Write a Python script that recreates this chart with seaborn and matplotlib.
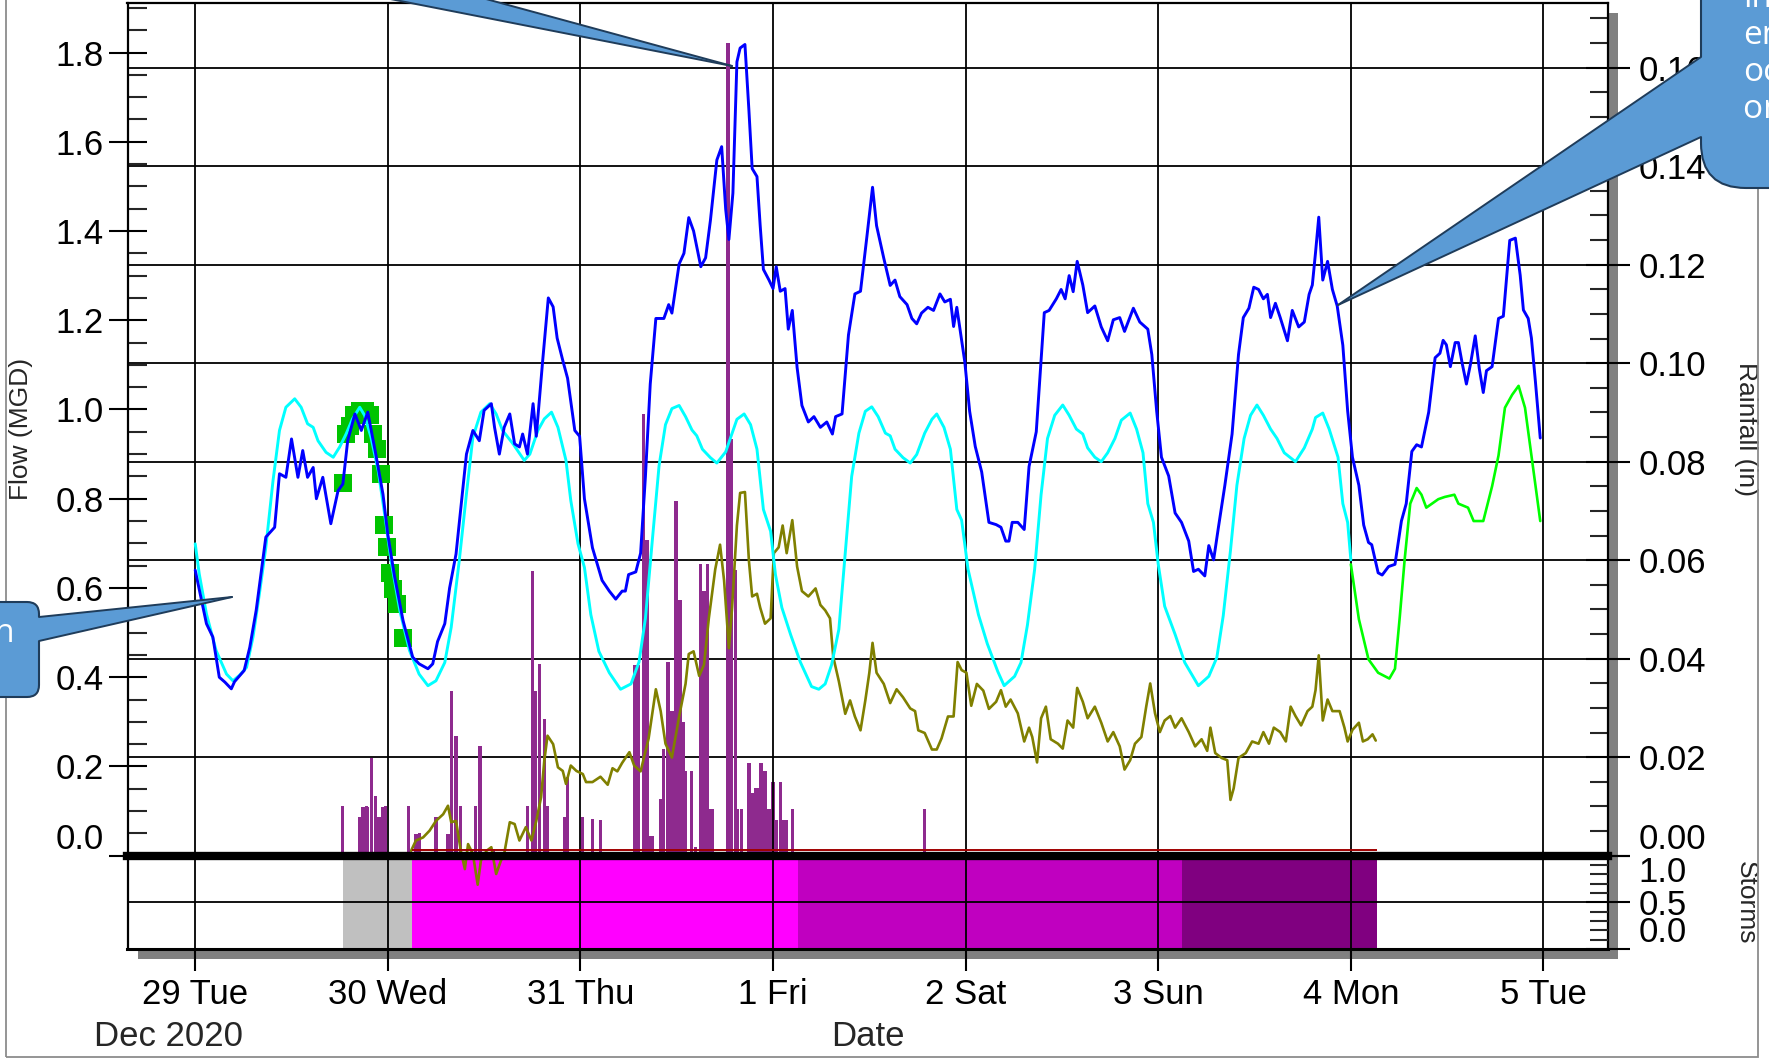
import datetime as dt
import numpy as np
import pandas as pd
import matplotlib
matplotlib.use("Agg")
import matplotlib.pyplot as plt
import matplotlib.dates as mdates
from matplotlib.ticker import MultipleLocator, FuncFormatter
from matplotlib.patches import Rectangle, FancyBboxPatch, Polygon
from matplotlib.lines import Line2D
from matplotlib.transforms import IdentityTransform
import seaborn as sns

# ---------------- data (hours after 29 Dec 2020 00:00) ----------------
obs_h = [0.0, 1.4, 2.2, 3.0, 3.7, 4.5, 4.9, 6.1, 6.8, 7.6, 8.8, 9.9, 10.5, 11.3, 12.0, 12.8, 13.4, 14.0,
         14.7, 15.1, 15.9, 16.9, 17.8, 18.4, 19.0, 19.9, 20.7, 21.5, 22.5, 23.4, 24.0, 24.8, 25.9, 27.1,
         27.9, 29.0, 29.6, 30.2, 31.1, 31.7, 32.5, 33.8, 34.6, 35.4, 36.0, 36.9, 37.3, 37.9, 38.5, 39.2,
         39.8, 40.4, 40.8, 41.4, 42.1, 42.5, 43.3, 44.0, 44.6, 45.1, 45.8, 46.4, 47.3, 47.9, 48.5, 49.5,
         50.7, 51.6, 52.4, 53.2, 53.6, 54.0, 54.9, 55.5, 56.1, 56.7, 57.4, 58.4, 59.0, 59.4, 60.3, 60.9,
         61.5, 62.1, 63.0, 63.6, 64.2, 65.0, 65.6, 66.1, 66.5, 67.0, 67.5, 67.9, 68.5, 69.0, 69.4, 70.0,
         70.4, 70.8, 71.5, 72.0, 72.4, 72.9, 73.5, 73.9, 74.4, 75.0, 75.6, 76.4, 77.1, 77.9, 78.7, 79.4,
         79.8, 80.6, 81.4, 82.2, 82.9, 83.7, 84.4, 84.9, 85.8, 86.6, 87.2, 87.8, 88.7, 89.3, 89.9, 90.5,
         91.3, 92.0, 92.8, 93.4, 94.1, 94.5, 94.9, 95.3, 95.9, 96.5, 97.2, 98.0, 98.9, 99.8, 100.4, 101.0,
         101.4, 101.8, 102.5, 103.3, 103.9, 104.8, 105.4, 105.8, 106.4, 107.3, 107.9, 108.4, 108.9, 109.4,
         109.9, 110.6, 111.2, 112.1, 112.9, 113.7, 114.4, 115.2, 115.8, 116.9, 117.7, 118.7, 119.2, 119.8,
         120.4, 121.3, 122.1, 122.9, 123.8, 124.4, 125.0, 125.8, 126.3, 126.9, 127.5, 128.3, 129.2, 130.0,
         130.6, 131.3, 131.9, 132.5, 133.1, 133.6, 134.0, 134.6, 135.2, 136.1, 136.7, 137.5, 138.2, 138.8,
         139.2, 139.6, 140.0, 140.5, 141.1, 141.7, 142.3, 143.0, 143.6, 144.2, 145.0, 145.6, 146.2, 146.6,
         147.4, 147.9, 148.7, 149.5, 150.3, 150.9, 151.6, 152.2, 152.8, 153.7, 154.5, 155.1, 155.5, 155.9,
         156.4, 157.0, 157.4, 157.9, 158.4, 158.9, 159.5, 160.0, 160.5, 160.9, 161.6, 162.4, 163.0, 163.8,
         164.5, 165.1, 165.5, 166.1, 166.5, 167.0, 167.6]
obs_flow = [0.64, 0.52, 0.49, 0.40, 0.389, 0.374, 0.39, 0.415, 0.467, 0.55, 0.714, 0.736, 0.856, 0.848,
            0.934, 0.848, 0.908, 0.848, 0.87, 0.80, 0.848, 0.744, 0.818, 0.833, 0.93, 0.99, 0.953, 0.994,
            0.90, 0.81, 0.72, 0.63, 0.527, 0.445, 0.43, 0.419, 0.43, 0.48, 0.52, 0.60, 0.676, 0.90, 0.953,
            0.93, 0.998, 1.013, 0.96, 0.90, 0.96, 0.99, 0.923, 0.916, 0.945, 0.90, 1.013, 0.94, 1.11, 1.25,
            1.23, 1.16, 1.11, 1.07, 0.953, 0.94, 0.80, 0.69, 0.617, 0.593, 0.575, 0.593, 0.593, 0.63, 0.636,
            0.678, 0.85, 1.057, 1.204, 1.204, 1.235, 1.216, 1.326, 1.35, 1.43, 1.40, 1.32, 1.34, 1.424,
            1.559, 1.589, 1.449, 1.381, 1.485, 1.779, 1.81, 1.818, 1.669, 1.54, 1.522, 1.412, 1.314, 1.29,
            1.271, 1.32, 1.265, 1.271, 1.18, 1.222, 1.094, 1.009, 0.972, 0.984, 0.96, 0.972, 0.945, 0.984,
            0.99, 1.167, 1.259, 1.265, 1.388, 1.498, 1.412, 1.339, 1.278, 1.29, 1.253, 1.235, 1.204, 1.192,
            1.216, 1.229, 1.222, 1.259, 1.241, 1.247, 1.186, 1.229, 1.18, 1.106, 0.996, 0.917, 0.86, 0.747,
            0.742, 0.736, 0.705, 0.705, 0.747, 0.747, 0.731, 0.872, 0.95, 1.112, 1.217, 1.222, 1.248,
            1.269, 1.248, 1.30, 1.264, 1.332, 1.279, 1.217, 1.232, 1.185, 1.154, 1.201, 1.206, 1.175,
            1.227, 1.196, 1.18, 1.123, 0.997, 0.893, 0.851, 0.768, 0.747, 0.705, 0.637, 0.642, 0.627,
            0.695, 0.663, 0.736, 0.83, 0.945, 1.123, 1.206, 1.227, 1.274, 1.269, 1.248, 1.258, 1.206,
            1.238, 1.206, 1.154, 1.222, 1.185, 1.196, 1.258, 1.279, 1.352, 1.431, 1.29, 1.332, 1.269,
            1.232, 1.144, 0.997, 0.893, 0.83, 0.741, 0.702, 0.697, 0.634, 0.629, 0.648, 0.653, 0.75, 0.789,
            0.906, 0.921, 0.916, 0.994, 1.116, 1.126, 1.155, 1.145, 1.096, 1.15, 1.15, 1.101, 1.057, 1.101,
            1.165, 1.092, 1.038, 1.087, 1.096, 1.204, 1.209, 1.379, 1.384, 1.301, 1.223, 1.204, 1.16,
            1.062, 0.936]

dwf_h = [0.0, 0.5, 1.4, 2.6, 3.9, 4.7, 5.5, 6.4, 7.2, 8.0, 8.8, 9.7, 10.5, 11.3, 12.4, 13.2, 14.0, 14.7,
         15.3, 16.3, 17.2, 18.0, 18.8, 19.6, 20.5, 21.1, 21.9, 22.8, 23.6, 24.4, 25.5, 26.7, 27.9, 29.0,
         30.0, 31.1, 31.9, 32.9, 33.8, 34.6, 35.6, 36.7, 37.5, 38.3, 39.6, 41.0, 41.7, 42.7, 43.5, 44.4,
         45.2, 46.2, 46.8, 47.7, 48.5, 49.3, 50.3, 51.6, 53.0, 54.3, 55.3, 56.1, 57.0, 57.8, 58.6, 59.4,
         60.3, 61.1, 61.9, 62.5, 63.2, 64.2, 65.0, 66.1, 66.9, 67.5, 68.4, 69.2, 70.0, 70.8, 71.7, 72.3,
         73.1, 74.2, 75.4, 76.8, 77.7, 78.5, 79.3, 80.2, 81.0, 81.8, 82.7, 83.5, 84.3, 85.1, 86.0, 86.6,
         87.2, 88.2, 89.1, 89.9, 90.9, 91.8, 92.4, 93.3, 94.1, 94.9, 95.5, 96.3, 97.6, 98.7, 100.0, 100.8,
         102.1, 102.9, 103.7, 104.6, 105.4, 106.2, 107.1, 108.1, 108.9, 109.8, 110.6, 111.2, 112.1, 112.9,
         113.7, 114.6, 115.4, 116.5, 117.3, 118.1, 118.7, 119.4, 120.0, 120.8, 122.1, 123.3, 125.0, 126.3,
         127.3, 128.1, 129.0, 129.8, 130.7, 131.5, 132.3, 133.1, 134.0, 134.8, 135.7, 137.1, 138.2, 139.2,
         139.6, 140.5, 141.3, 142.4, 143.0, 143.6, 144.0]
dwf_flow = [0.699, 0.632, 0.542, 0.46, 0.407, 0.392, 0.404, 0.422, 0.49, 0.587, 0.691, 0.841, 0.953, 1.005,
            1.024, 1.005, 0.968, 0.96, 0.93, 0.904, 0.893, 0.916, 0.945, 0.979, 1.005, 0.987, 0.938, 0.863,
            0.766, 0.661, 0.549, 0.46, 0.407, 0.381, 0.392, 0.433, 0.512, 0.661, 0.811, 0.938, 0.994, 1.013,
            0.99, 0.953, 0.923, 0.886, 0.90, 0.953, 0.979, 0.994, 0.96, 0.886, 0.796, 0.699, 0.646, 0.54,
            0.458, 0.41, 0.373, 0.385, 0.434, 0.532, 0.715, 0.874, 0.966, 1.002, 1.009, 0.984, 0.954, 0.941,
            0.911, 0.892, 0.88, 0.905, 0.947, 0.978, 0.99, 0.966, 0.911, 0.776, 0.727, 0.63, 0.556, 0.495,
            0.434, 0.379, 0.373, 0.385, 0.428, 0.507, 0.678, 0.85, 0.947, 0.996, 1.006, 0.984, 0.947, 0.941,
            0.911, 0.892, 0.88, 0.899, 0.947, 0.978, 0.99, 0.96, 0.911, 0.776, 0.752, 0.642, 0.54, 0.475,
            0.413, 0.381, 0.402, 0.433, 0.517, 0.642, 0.809, 0.935, 0.987, 1.01, 0.987, 0.956, 0.945, 0.914,
            0.893, 0.883, 0.903, 0.935, 0.976, 0.992, 0.956, 0.903, 0.789, 0.747, 0.653, 0.559, 0.496,
            0.433, 0.381, 0.402, 0.444, 0.538, 0.684, 0.83, 0.935, 0.987, 1.01, 0.987, 0.956, 0.935, 0.903,
            0.883, 0.914, 0.956, 0.982, 0.992, 0.956, 0.893, 0.789, 0.747, 0.663]

fcst_h = [144.0, 145.0, 146.2, 147.4, 148.8, 149.5, 150.1, 150.7, 151.4, 152.2, 152.8, 153.4, 154.9, 155.7,
          156.9, 157.4, 158.6, 159.3, 160.5, 161.6, 162.4, 163.2, 164.1, 164.9, 165.7, 166.5, 167.6]
fcst_flow = [0.653, 0.53, 0.44, 0.41, 0.397, 0.419, 0.536, 0.663, 0.789, 0.824, 0.809, 0.78, 0.799, 0.804,
             0.809, 0.789, 0.78, 0.75, 0.75, 0.828, 0.897, 1.004, 1.033, 1.053, 1.004, 0.897, 0.75]

pt_h = [18.4, 18.8, 19.3, 19.8, 20.5, 21.2, 21.8, 22.2, 22.6, 23.1, 23.5, 23.9, 24.3, 24.7, 25.2, 25.9]
pt_flow = [0.835, 0.944, 0.962, 0.987, 0.997, 0.997, 0.987, 0.944, 0.911, 0.856, 0.742, 0.691, 0.633,
           0.597, 0.565, 0.489]

rdii_h = [26.9, 27.5, 28.4, 29.2, 30.0, 30.9, 31.5, 31.9, 32.5, 33.1, 33.6, 34.0, 34.6, 35.2, 35.6, 36.3,
          36.9, 37.5, 38.1, 38.5, 39.2, 39.8, 40.4, 41.2, 41.9, 42.5, 43.1, 43.5, 43.9, 44.6, 45.2, 45.8,
          46.2, 46.8, 47.5, 48.3, 48.7, 49.5, 50.5, 51.4, 52.0, 52.6, 53.2, 54.1, 54.7, 55.5, 56.5, 57.4,
          58.0, 58.6, 59.4, 60.3, 61.1, 61.5, 62.1, 62.8, 63.4, 64.0, 64.8, 65.4, 65.9, 66.5, 66.9, 67.5,
          67.9, 68.5, 69.0, 69.4, 70.0, 70.4, 71.0, 71.7, 72.1, 72.7, 73.2, 73.7, 74.4, 75.0, 75.6, 76.4,
          77.3, 77.9, 78.5, 79.1, 79.5, 80.2, 81.0, 81.6, 82.2, 82.9, 83.5, 84.0, 84.4, 84.9, 85.8, 86.6,
          87.4, 88.2, 89.1, 89.7, 90.1, 90.9, 91.8, 92.4, 93.0, 93.8, 94.5, 95.0, 95.5, 96.1, 96.7, 97.4,
          98.2, 98.9, 99.8, 100.4, 101.0, 101.6, 102.5, 103.3, 103.9, 104.3, 104.9, 105.4, 106.0, 106.6,
          107.5, 108.1, 108.7, 109.4, 109.9, 110.6, 111.2, 112.1, 112.9, 113.7, 114.4, 115.2, 115.8, 116.5,
          117.1, 117.9, 118.5, 119.0, 119.6, 120.2, 120.8, 121.5, 122.1, 122.9, 123.8, 124.6, 125.4, 126.1,
          126.5, 127.1, 127.9, 128.6, 129.0, 129.4, 130.0, 130.9, 131.7, 132.5, 133.1, 133.8, 134.4, 135.2,
          135.9, 136.5, 137.1, 137.8, 138.6, 139.2, 139.6, 140.0, 140.5, 141.1, 141.7, 142.6, 143.2, 143.6,
          144.2, 145.0, 145.5, 146.1, 146.7, 147.1]
rdii_flow = [0.011, 0.034, 0.041, 0.056, 0.078, 0.093, 0.112, 0.075, 0.078, 0.011, -0.03, 0.026, 0.004,
             -0.065, -0.011, 0.011, 0.019, -0.041, -0.011, 0.004, 0.075, 0.071, 0.034, 0.064, 0.034, 0.078,
             0.131, 0.213, 0.269, 0.25, 0.198, 0.19, 0.161, 0.202, 0.19, 0.183, 0.165, 0.165, 0.177, 0.159,
             0.196, 0.189, 0.208, 0.232, 0.202, 0.189, 0.263, 0.373, 0.324, 0.251, 0.22, 0.312, 0.385,
             0.452, 0.458, 0.403, 0.428, 0.532, 0.642, 0.697, 0.617, 0.465, 0.556, 0.74, 0.813, 0.815, 0.66,
             0.581, 0.587, 0.556, 0.52, 0.532, 0.678, 0.691, 0.74, 0.678, 0.752, 0.648, 0.593, 0.581, 0.599,
             0.562, 0.55, 0.532, 0.446, 0.391, 0.318, 0.348, 0.312, 0.281, 0.348, 0.41, 0.477, 0.41, 0.385,
             0.342, 0.373, 0.355, 0.33, 0.324, 0.281, 0.275, 0.238, 0.238, 0.263, 0.312, 0.312, 0.434, 0.416,
             0.41, 0.336, 0.385, 0.37, 0.329, 0.345, 0.371, 0.334, 0.35, 0.319, 0.256, 0.287, 0.266, 0.209,
             0.308, 0.334, 0.261, 0.251, 0.24, 0.303, 0.287, 0.376, 0.345, 0.308, 0.334, 0.298, 0.256, 0.277,
             0.245, 0.193, 0.214, 0.251, 0.266, 0.334, 0.386, 0.319, 0.277, 0.303, 0.313, 0.287, 0.308,
             0.277, 0.245, 0.261, 0.235, 0.287, 0.23, 0.219, 0.214, 0.125, 0.151, 0.219, 0.23, 0.256, 0.251,
             0.277, 0.251, 0.287, 0.277, 0.256, 0.334, 0.313, 0.292, 0.324, 0.334, 0.371, 0.449, 0.303,
             0.35, 0.324, 0.324, 0.287, 0.256, 0.282, 0.298, 0.256, 0.261, 0.272, 0.258]

rain_h = [18.4, 20.5, 20.9, 21.3, 21.5, 22.0, 22.5, 22.9, 23.4, 23.7, 26.6, 27.5, 27.9, 30.0, 31.5, 31.9,
          32.5, 33.1, 34.9, 35.5, 37.1, 41.4, 42.0, 42.4, 42.9, 43.5, 43.9, 46.0, 46.4, 48.3, 49.5, 50.5,
          54.8, 55.2, 55.9, 56.3, 56.7, 57.0, 58.0, 58.4, 58.9, 59.4, 59.9, 60.4, 60.8, 61.1, 61.8, 62.3,
          63.0, 63.4, 63.8, 64.2, 64.5, 66.4, 66.8, 67.3, 67.6, 68.1, 69.0, 69.4, 69.8, 70.2, 70.5, 71.0,
          71.5, 72.0, 72.4, 72.9, 73.3, 73.7, 74.4, 90.9]
rain_in = [0.0101, 0.0078, 0.0098, 0.0101, 0.0098, 0.0199, 0.0122, 0.0078, 0.0098, 0.0101, 0.0101, 0.0044,
           0.0047, 0.0078, 0.0044, 0.0334, 0.0243, 0.0101, 0.0101, 0.0223, 0.0014, 0.0101, 0.0578, 0.0334,
           0.0389, 0.0277, 0.0101, 0.0078, 0.0159, 0.0078, 0.0075, 0.0072, 0.0388, 0.0388, 0.0897, 0.0642,
           0.0039, 0.0039, 0.0116, 0.0216, 0.0393, 0.0293, 0.072, 0.052, 0.0271, 0.0172, 0.0172, 0.0017,
           0.0592, 0.0537, 0.0592, 0.0094, 0.0094, 0.165, 0.0847, 0.0581, 0.0094, 0.0094, 0.0188, 0.0127,
           0.0138, 0.0138, 0.0188, 0.0172, 0.0094, 0.015, 0.0072, 0.015, 0.0072, 0.0072, 0.0094, 0.0094]

base_line_h = [27.0, 147.2]
base_line_flow = 0.013

storm_start_h = [18.4, 27.0, 75.1, 123.0]
storm_end_h = [27.0, 75.1, 123.0, 147.2]
storm_level = [1.0, 1.0, 1.0, 1.0]
storm_colors = ['#c0c0c0', '#ff00ff', '#c000c0', '#800080']

flow_ticks = [0.0, 0.2, 0.4, 0.6, 0.8, 1.0, 1.2, 1.4, 1.6, 1.8]
rain_ticks = [0.0, 0.02, 0.04, 0.06, 0.08, 0.10, 0.12, 0.14, 0.16]
storm_ticks = [0.0, 0.5, 1.0]

BASE = pd.Timestamp('2020-12-29')


def tt(h):
    return BASE + pd.to_timedelta(np.asarray(h, dtype=float), unit='h')


def frame(h, v):
    return pd.DataFrame({'time': tt(h), 'value': v})


# ---------------- figure ----------------
sns.set_style("ticks")
plt.rcParams['font.family'] = ['Liberation Sans', 'DejaVu Sans']

W, H = 1769, 1060
fig = plt.figure(figsize=(W / 100, H / 100), dpi=100)
fig.patch.set_facecolor('white')


def fx(px):
    return px / W


def fy(py):
    return 1 - py / H


L, R, T, MID, BOT = 127.5, 1607.6, 3.3, 855.7, 949.0
ax = fig.add_axes([fx(L), fy(MID), fx(R) - fx(L), fy(T) - fy(MID)])
ax_rain = ax.twinx()
ax_s = fig.add_axes([fx(L), fy(BOT), fx(R) - fx(L), fy(MID) - fy(BOT)])

ax_rain.set_zorder(1)
ax_rain.patch.set_visible(True)
ax_rain.patch.set_facecolor('white')
ax.set_zorder(2)
ax.patch.set_visible(False)
ax_s.set_zorder(1)

x0 = BASE + pd.Timedelta(hours=-0.3515 * 24)
x1 = BASE + pd.Timedelta(hours=7.333 * 24)

# shadow and frame of the whole picture
fig.add_artist(Rectangle((fx(L + 10), fy(BOT + 10)), fx(R) - fx(L), fy(T + 10) - fy(BOT + 10),
                         transform=fig.transFigure, color='#808080', zorder=-1, lw=0))
fig.add_artist(Rectangle((fx(6), fy(1057)), fx(1758) - fx(6), fy(-3) - fy(1057),
                         transform=fig.transFigure, fill=False, edgecolor='#8c8c8c', lw=1.3, zorder=5))

# ---- rainfall bars (right axis) ----
ax_rain.bar(tt(rain_h), rain_in, width=dt.timedelta(minutes=24), color='#8e2a8e', lw=0, zorder=2)
ax_rain.set_ylim(0, 0.17308)
ax_rain.set_yticks(rain_ticks)
ax_rain.set_yticklabels([f'{v:.2f}' for v in rain_ticks])
ax_rain.get_yticklabels()[0].set_va('bottom')
ax_rain.yaxis.set_minor_locator(MultipleLocator(0.005))
ax_rain.tick_params(axis='y', which='major', direction='inout', length=32, width=1.5, labelsize=25,
                    pad=6, right=True, left=False, colors='black')
ax_rain.tick_params(axis='y', which='minor', direction='in', length=13, width=1.5, right=True, left=False)
ax_rain.grid(axis='y', which='major', color='black', lw=1.3)
for s in ax_rain.spines.values():
    s.set_visible(False)

# ---- flow lines (left axis) ----
sns.scatterplot(data=frame(pt_h, pt_flow), x='time', y='value', ax=ax, marker='s', s=150,
                color='#00c400', linewidth=0, zorder=2, legend=False)
sns.lineplot(data=frame(rdii_h, rdii_flow), x='time', y='value', ax=ax, color='#808000', linewidth=1.9,
             estimator=None, sort=False, legend=False)
ax.lines[-1].set_clip_on(False)
sns.lineplot(data=frame(fcst_h, fcst_flow), x='time', y='value', ax=ax, color='#00ff00', linewidth=1.9,
             estimator=None, sort=False, legend=False)
sns.lineplot(data=frame(dwf_h, dwf_flow), x='time', y='value', ax=ax, color='#00ffff', linewidth=2.1,
             estimator=None, sort=False, legend=False)
sns.lineplot(data=frame(obs_h, obs_flow), x='time', y='value', ax=ax, color='#0000ff', linewidth=2.1,
             estimator=None, sort=False, legend=False)
ax.hlines(base_line_flow, tt(base_line_h)[0], tt(base_line_h)[1], color='#a00000', lw=1.4, zorder=2.4)

ax.set_xlim(x0, x1)
ax.set_ylim(0, 1.9103)
ax.set_xlabel('')
ax.set_ylabel('')
ax.set_yticks(flow_ticks)
ax.set_yticklabels([f'{v:.1f}' for v in flow_ticks])
ax.get_yticklabels()[0].set_va('bottom')
ax.yaxis.set_minor_locator(MultipleLocator(0.05))
ax.tick_params(axis='y', which='major', direction='inout', length=28, width=1.5, labelsize=25, pad=3,
               left=True, right=False, colors='black')
ax.tick_params(axis='y', which='minor', direction='in', length=14, width=1.5, left=True, right=False)
ax.xaxis.set_major_locator(mdates.DayLocator())
ax.tick_params(axis='x', which='both', bottom=False, top=False, labelbottom=False)
ax.grid(axis='x', which='major', color='black', lw=1.3)
for side in ['left', 'top', 'right']:
    ax.spines[side].set_color('black')
    ax.spines[side].set_linewidth(1.6)
ax.spines['bottom'].set_color('black')
ax.spines['bottom'].set_linewidth(6)

# ---- storms panel ----
ax_s.bar(tt(storm_start_h), storm_level,
         width=[dt.timedelta(hours=e - s) for s, e in zip(storm_start_h, storm_end_h)],
         align='edge', color=storm_colors, lw=0)
ax_s.set_xlim(x0, x1)
ax_s.set_ylim(0, 1)
ax_s.yaxis.tick_right()
ax_s.set_yticks(storm_ticks)
ax_s.set_yticklabels([f'{v:.1f}' for v in storm_ticks])
ax_s.get_yticklabels()[0].set_va('bottom')
ax_s.get_yticklabels()[2].set_va('top')
ax_s.yaxis.set_minor_locator(MultipleLocator(0.1))
ax_s.tick_params(axis='y', which='major', direction='inout', length=32, width=1.5, labelsize=25, pad=6,
                 right=True, left=False, colors='black')
ax_s.tick_params(axis='y', which='minor', direction='in', length=13, width=1.5, right=True, left=False)
ax_s.xaxis.set_major_locator(mdates.DayLocator())


def day_fmt(x, pos=None):
    d = mdates.num2date(x)
    return f"{d.day} {d.strftime('%a')}"


ax_s.xaxis.set_major_formatter(FuncFormatter(day_fmt))
ax_s.tick_params(axis='x', which='major', direction='out', length=16, width=1.5, labelsize=25, pad=5,
                 bottom=True, top=False, colors='black')
ax_s.tick_params(axis='x', which='minor', bottom=False, top=False)
ax_s.set_axisbelow(False)
ax_s.grid(axis='both', which='major', color='black', lw=1.3)
ax_s.set_xlabel('')
ax_s.set_ylabel('')
ax_s.spines['top'].set_visible(False)
ax_s.spines['bottom'].set_linewidth(2.2)
for side in ['left', 'right', 'bottom']:
    ax_s.spines[side].set_color('black')
ax_s.spines['left'].set_linewidth(1.6)
ax_s.spines['right'].set_linewidth(1.6)

# ---- axis titles ----
fig.text(fx(21), fy(429), 'Flow (MGD)', rotation=90, ha='center', va='center', fontsize=19)
fig.text(fx(1746), fy(429), 'Rainfall (in)', rotation=-90, ha='center', va='center', fontsize=19)
fig.text(fx(1746), fy(903), 'Storms', rotation=-90, ha='center', va='center', fontsize=19)
fig.text(fx(168), fy(1036), 'Dec 2020', ha='center', va='center', fontsize=25)
fig.text(fx(868), fy(1036), 'Date', ha='center', va='center', fontsize=25)

# ---- call-outs ----
FILL, EDGE = '#5b9bd5', '#1f3c5a'
ID = IdentityTransform()


def P(x, y):
    return (x, H - y)


def pointer(tip, a, b, inner):
    fig.add_artist(Polygon([P(*tip), P(*a), P(inner, a[1]), P(inner, b[1]), P(*b)], closed=True,
                           facecolor=FILL, edgecolor='none', transform=ID, zorder=21))
    for q in (a, b):
        fig.add_artist(Line2D([tip[0], q[0]], [H - tip[1], H - q[1]], color=EDGE, lw=1.4,
                              transform=ID, zorder=22))


# right call-out
fig.add_artist(FancyBboxPatch(P(1701, 188), 300, 400, boxstyle='round,pad=0,rounding_size=45',
                              facecolor=FILL, edgecolor=EDGE, lw=1.5, transform=ID, zorder=20))
pointer((1338, 305), (1701, 57), (1701, 137), 1716)
fig.text(1743, H - 54, 'inflow\nends\noccurs\non Mon', transform=ID, ha='left', va='center',
         fontsize=24, color='white', family=['Open Sans', 'DejaVu Sans'], linespacing=1.15, zorder=23)

# left call-out
fig.add_artist(FancyBboxPatch(P(-560, 697), 599, 95, boxstyle='round,pad=0,rounding_size=12',
                              facecolor=FILL, edgecolor=EDGE, lw=1.5, transform=ID, zorder=20))
pointer((232, 597), (39, 617), (39, 641), 26)
left_txt = fig.text(-200, H - 652, 'Good fit to dry-weather pattern\nbefore the storm', transform=ID,
                    ha='center', va='center', multialignment='center', fontsize=24, color='white',
                    family=['Open Sans', 'DejaVu Sans'], linespacing=1.15, zorder=23)

# top call-out (box lies above the picture)
fig.add_artist(Polygon([P(732, 66), P(475, -4), P(375, -4)], closed=True, facecolor=FILL,
                       edgecolor='none', transform=ID, zorder=21))
for q in ((475, -4), (375, -4)):
    fig.add_artist(Line2D([732, q[0]], [H - 66, H - q[1]], color=EDGE, lw=1.4, transform=ID, zorder=22))

fig.canvas.draw()
bb = left_txt.get_window_extent(fig.canvas.get_renderer())
px, py = left_txt.get_position()
left_txt.set_position((px + (15 - bb.x1), py))

fig.savefig('out.png', dpi=100)
